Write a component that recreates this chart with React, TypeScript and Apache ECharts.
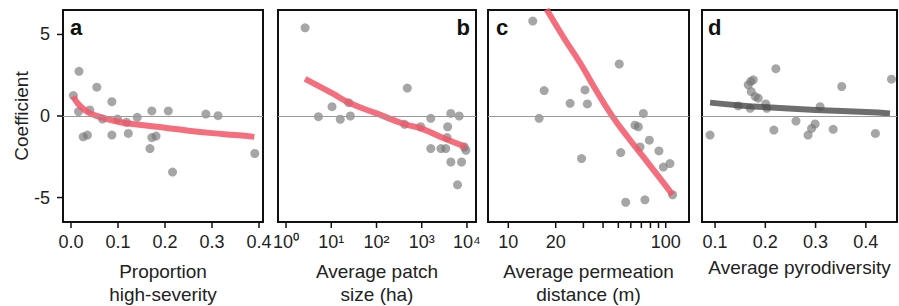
import React, { useEffect, useRef } from "react";
import * as echarts from "echarts";

const FONT = '"Liberation Sans", Arial, Helvetica, sans-serif';

// Panel a: proportion high-severity
const aPoints: [number, number][] = [
  [0.017, 2.74], [0.005, 1.25], [0.016, 0.27], [0.055, 1.77], [0.04, 0.37],
  [0.026, -1.28], [0.035, -1.17], [0.067, -0.19], [0.087, 0.88], [0.087, -1.17],
  [0.099, -0.19], [0.118, -0.39], [0.122, -1.07], [0.141, -0.08], [0.172, 0.31],
  [0.207, 0.31], [0.172, -1.32], [0.181, -1.23], [0.168, -2.0], [0.216, -3.44],
  [0.287, 0.12], [0.313, 0.02], [0.391, -2.3],
];
const aLine: [number, number][] = [
  [0.005, 1.2], [0.015, 0.75], [0.03, 0.35], [0.05, 0.05], [0.1, -0.35],
  [0.15, -0.55], [0.2, -0.72], [0.25, -0.9], [0.3, -1.05], [0.35, -1.17], [0.39, -1.28],
];

// Panel b: average patch size (ha), log scale
const bPoints: [number, number][] = [
  [2.64, 5.41], [5.2, -0.04], [10.4, 0.57], [15.8, -0.2], [24.3, 0.82], [26.4, 0.0],
  [480, 1.71], [418, -0.51], [950, -0.66], [1585, -0.14], [1585, -2.0], [2660, -2.0],
  [3400, -2.0], [3740, -0.66], [3630, -1.32], [4400, 0.16], [6740, 0.0], [4400, -2.82],
  [7600, -2.82], [6200, -4.22], [9500, -2.1], [8700, -1.9],
];
const bLine: [number, number][] = [
  [2.63, 2.28], [10.4, 1.4], [26.3, 0.78], [100, 0.16], [407, -0.49],
  [955, -0.76], [3160, -1.38], [9550, -1.89],
];

// Panel c: average permeation distance (m), log scale
const cPoints: [number, number][] = [
  [14.3, 5.82], [16.9, 1.56], [15.7, -0.14], [24.7, 0.78], [30.7, 1.6], [31.8, 0.74],
  [29.2, -2.61], [50.7, 3.19], [51.8, -2.24], [55.7, -5.29], [72.1, 0.16], [63.8, -0.56],
  [67, -0.66], [68.7, -1.9], [78.7, -1.48], [73.8, -5.14], [90.6, -2.14], [106.4, -2.92],
  [96.6, -3.13], [110.6, -4.83],
];
const cLine: [number, number][] = [
  [17.5, 6.54], [22.5, 4.8], [28.6, 3.25], [36.5, 1.5], [46, -0.04], [58, -1.35],
  [72.1, -2.51], [90, -3.7], [110.6, -4.83],
];

// Panel d: average pyrodiversity
const dPoints: [number, number][] = [
  [0.09, -1.17], [0.221, 2.9], [0.171, 2.12], [0.176, 2.22], [0.166, 1.91], [0.172, 1.5],
  [0.18, 1.19], [0.186, 1.09], [0.146, 0.62], [0.17, 0.47], [0.201, 0.74], [0.203, 0.47],
  [0.217, -0.86], [0.261, -0.31], [0.285, -1.17], [0.292, -0.76], [0.299, -0.49],
  [0.309, 0.57], [0.335, -0.82], [0.352, 1.81], [0.419, -1.07], [0.451, 2.26],
];
const dLine: [number, number][] = [
  [0.09, 0.82], [0.15, 0.65], [0.2, 0.54], [0.3, 0.37], [0.4, 0.24], [0.448, 0.16],
];

const yTicks = [-5, 0, 5];
const aTicks = [0, 0.1, 0.2, 0.3, 0.4];
const bTicks = [1, 10, 100, 1000, 10000];
const cTicks = [10, 20, 30, 40, 50, 60, 70, 80, 90, 100];
const cLabels = [10, 20, 100];
const dTicks = [0.1, 0.2, 0.3, 0.4];
const SUP = ["\u2070", "\u00B9", "\u00B2", "\u00B3", "\u2074"];

const xTitles = [
  ["Proportion", "high-severity"],
  ["Average patch", "size (ha)"],
  ["Average permeation", "distance (m)"],
  ["Average pyrodiversity"],
];
const panelLetters = ["a", "b", "c", "d"];

export default function App() {
  const ref = useRef<HTMLDivElement>(null);
  useEffect(() => {
    if (!ref.current) return;
    const chart = echarts.init(ref.current, undefined, { renderer: "svg" });
    const log = (p: [number, number][]) => p.map(([x, y]) => [Math.log10(x), y]);

    const grids = [
      { left: 63, width: 200 },
      { left: 278, width: 198 },
      { left: 488, width: 201 },
      { left: 702, width: 195 },
    ].map((g) => ({
      ...g,
      top: 10,
      height: 212,
      show: true,
      borderColor: "#111",
      borderWidth: 2,
    }));

    const FS = 19;
    const TFS = 18;
    const Y_MIN = -6.5;
    const Y_MAX = 6.5;
    const label = (show: boolean, values: number[], fmt: (v: number) => string, margin = 11) => ({
      show,
      fontSize: TFS,
      color: "#222",
      fontFamily: FONT,
      margin,
      customValues: values,
      formatter: fmt,
    });

    const bLog = bTicks.map((v) => Math.log10(v));
    const cLog = cTicks.map((v) => Math.log10(v));
    const cLabLog = cLabels.map((v) => Math.log10(v));

    const xSpecs: any[] = [
      { min: -0.017, max: 0.4085, ticks: aTicks, axisLabel: label(true, aTicks, (v) => v.toFixed(1)) },
      { min: -0.178, max: 4.2, ticks: bLog, axisLabel: label(true, bLog, (v) => "10" + SUP[Math.round(v)]) },
      { min: 0.871, max: 2.148, ticks: cLog, axisLabel: label(true, cLabLog, (v) => String(Math.round(Math.pow(10, v)))) },
      { min: 0.074, max: 0.462, ticks: dTicks, axisLabel: label(true, dTicks, (v) => v.toFixed(1)) },
    ];
    const xAxis = xSpecs.map((a, i) => ({
      type: "value",
      gridIndex: i,
      min: a.min,
      max: a.max,
      splitLine: { show: false },
      axisLine: { show: false, onZero: false },
      axisTick: { show: false },
      axisLabel: a.axisLabel,
    }));

    const yAxis: any[] = [0, 1, 2, 3].map((i) => ({
      type: "value",
      gridIndex: i,
      min: Y_MIN,
      max: Y_MAX,
      splitLine: { show: false },
      axisLine: { show: false, onZero: false },
      axisTick: { show: false },
      axisLabel: label(i === 0, yTicks, (v) => String(v), 13),
    }));

    const pointSets = [aPoints, log(bPoints), log(cPoints), dPoints];
    const lineSets = [aLine, log(bLine), log(cLine), dLine];
    const lineColors = ["#f25566", "#f25566", "#f25566", "#4a4a4a"];

    const series: any[] = [];
    pointSets.forEach((pts, i) => {
      series.push({
        type: "scatter",
        xAxisIndex: i,
        yAxisIndex: i,
        data: pts,
        symbolSize: 9,
        itemStyle: { color: "rgba(115,115,115,0.8)" },
        markLine: {
          silent: true,
          symbol: ["none", "none"],
          label: { show: false },
          lineStyle: { color: "#9a9a9a", width: 1, type: "solid" },
          data: [{ yAxis: 0 }],
        },
      });
      series.push({
        type: "line",
        xAxisIndex: i,
        yAxisIndex: i,
        data: lineSets[i],
        smooth: true,
        showSymbol: false,
        lineStyle: { color: lineColors[i], width: 6, opacity: i === 3 ? 0.8 : 0.85 },
      });
      // x-axis tick marks, placed through the axis scale at the bottom edge
      series.push({
        type: "custom",
        xAxisIndex: i,
        yAxisIndex: i,
        silent: true,
        clip: false,
        z: 10,
        data: xSpecs[i].ticks.map((v: number) => [v, Y_MIN]),
        renderItem: (_p: any, api: any) => {
          const pt = api.coord([api.value(0), api.value(1)]);
          return {
            type: "line",
            shape: { x1: pt[0], y1: pt[1], x2: pt[0], y2: pt[1] + 6 },
            style: { stroke: "#111", lineWidth: 1.5 },
          };
        },
      });
    });
    // y-axis tick marks for panel a
    series.push({
      type: "custom",
      xAxisIndex: 0,
      yAxisIndex: 0,
      silent: true,
      clip: false,
      z: 10,
      data: yTicks.map((v) => [xSpecs[0].min, v]),
      renderItem: (_p: any, api: any) => {
        const pt = api.coord([api.value(0), api.value(1)]);
        return {
          type: "line",
          shape: { x1: pt[0] - 6, y1: pt[1], x2: pt[0], y2: pt[1] },
          style: { stroke: "#111", lineWidth: 1.5 },
        };
      },
    });

    const graphics: any[] = [];
    graphics.push({
      type: "text",
      x: 21,
      y: 116,
      rotation: Math.PI / 2,
      style: { text: "Coefficient", fontSize: FS, fontFamily: FONT, fill: "#222", textAlign: "center", textVerticalAlign: "middle" },
    });
    const centers = grids.map((g) => g.left + g.width / 2);
    xTitles.forEach((lines, i) => {
      lines.forEach((t, j) => {
        graphics.push({
          type: "text",
          x: centers[i],
          y: (i === 3 ? 267 : 271) + j * 23,
          style: { text: t, fontSize: FS, fontFamily: FONT, fill: "#222", textAlign: "center", textVerticalAlign: "middle" },
        });
      });
    });
    const letterPos = [
      { x: 70, align: "left" },
      { x: 470, align: "right" },
      { x: 496, align: "left" },
      { x: 708, align: "left" },
    ];
    panelLetters.forEach((l, i) => {
      graphics.push({
        type: "text",
        x: letterPos[i].x,
        y: 27,
        style: {
          text: l, fontSize: 22, fontWeight: "bold", fontFamily: FONT, fill: "#111",
          textAlign: letterPos[i].align, textVerticalAlign: "middle",
        },
      });
    });

    chart.setOption({
      animation: false,
      grid: grids,
      xAxis,
      yAxis,
      series,
      graphic: graphics,
    });
    return () => chart.dispose();
  }, []);
  return (
    <div
      ref={ref}
      style={{ position: "absolute", left: 0, top: 0, width: 899, height: 306, background: "#fff" }}
    />
  );
}
